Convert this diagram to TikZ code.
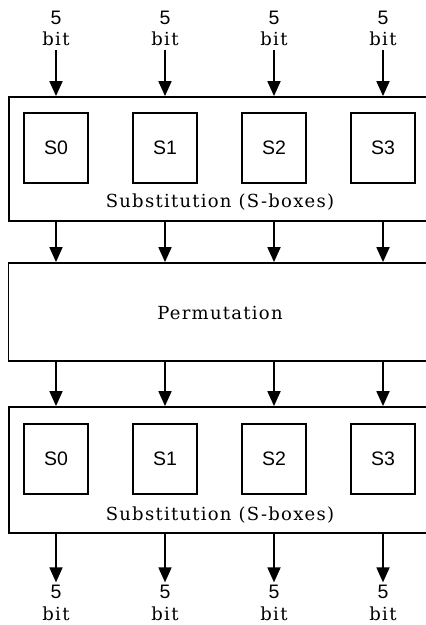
\documentclass[tikz,border=0pt]{standalone}
\usepackage{fontspec}
\usetikzlibrary{arrows.meta}
\newfontfamily\lblfont{DejaVu Serif}[LetterSpace=7]
\newfontfamily\boxfont{Liberation Sans}
\tikzset{
  bigbox/.style={draw, line width=1.8pt, rectangle, minimum width=431pt, inner sep=0pt},
  sbox/.style={draw, line width=1.6pt, rectangle, minimum width=64pt, minimum height=70pt,
    inner sep=0pt, font=\boxfont\fontsize{19.5}{19.5}\selectfont},
  numlbl/.style={anchor=base, inner sep=0pt, font=\boxfont\fontsize{19.5}{19.5}\selectfont},
  bitlbl/.style={anchor=base, inner sep=0pt, font=\lblfont\fontsize{18}{18}\selectfont},
  caption/.style={anchor=base, inner sep=0pt, font=\lblfont\fontsize{18}{18}\selectfont},
  arr/.style={line width=1.8pt, -{Triangle[length=15pt,width=13pt]}}
}
\begin{document}
\begin{tikzpicture}[x=1pt,y=-1pt]
\useasboundingbox (0,0) rectangle (426,625);
\clip (0,0) rectangle (426,625);

% three stages
\node[bigbox, minimum height=124pt] (sub1) at (224.5,159) {};
\node[bigbox, minimum height=98pt]  (perm) at (224,312) {};
\node[bigbox, minimum height=126pt] (sub2) at (224.5,470) {};

\node[caption] (cap1) at (220,207) {Substitution (S-boxes)};
\node[caption] (capp) at (220,319) {Permutation};
\node[caption] (cap2) at (220,520) {Substitution (S-boxes)};

% S-boxes, upper stage
\node[sbox] (a0) at (56,148)  {S0};
\node[sbox] (a1) at (165,148) {S1};
\node[sbox] (a2) at (274,148) {S2};
\node[sbox] (a3) at (383,148) {S3};

% S-boxes, lower stage
\node[sbox] (b0) at (56,459)  {S0};
\node[sbox] (b1) at (165,459) {S1};
\node[sbox] (b2) at (274,459) {S2};
\node[sbox] (b3) at (383,459) {S3};

\foreach \i/\x in {0/56,1/165,2/274,3/383}{
  % inputs
  \node[numlbl] (in\i) at (\x,24) {5};
  \node[bitlbl] (ib\i) at (\x,45) {bit};
  \draw[arr] ([yshift=-5pt]ib\i.south) -- (ib\i.south |- sub1.north);
  % between stages
  \draw[arr] (a\i |- sub1.south) -- (a\i |- perm.north);
  \draw[arr] (a\i |- perm.south) -- (a\i |- sub2.north);
  % outputs
  \node[numlbl] (out\i) at (\x,598) {5};
  \node[bitlbl] (ob\i) at (\x,620) {bit};
  \draw[arr] (b\i |- sub2.south) -- ([yshift=2pt]out\i.north);
}
\end{tikzpicture}
\end{document}
